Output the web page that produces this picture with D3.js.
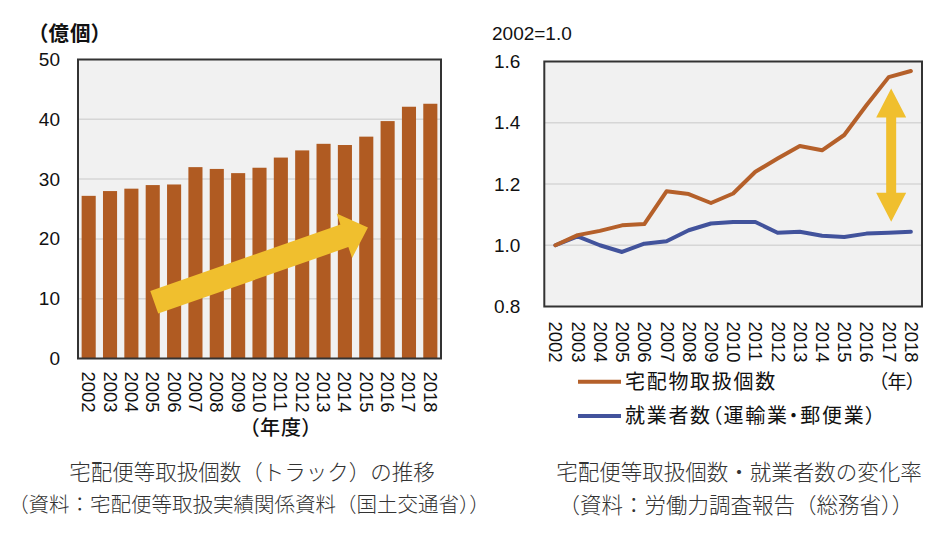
<!DOCTYPE html>
<html><head><meta charset="utf-8">
<script src="https://cdn.jsdelivr.net/npm/d3@7"></script>
<style>
body{margin:0;background:#fff}
svg{display:block}
text{font-family:"Liberation Sans",Arial,sans-serif;fill:#111}
.cjk{font-family:"Noto Sans CJK JP","Noto Sans CJK SC",sans-serif}
</style></head><body>
<svg id="c" width="950" height="536"></svg>
<script>
// ---- data ----
const years = ["2002","2003","2004","2005","2006","2007","2008","2009","2010","2011","2012","2013","2014","2015","2016","2017","2018"];
const parcels = [27.2,28.0,28.4,29.0,29.1,32.0,31.7,31.0,31.9,33.6,34.8,35.9,35.7,37.1,39.7,42.1,42.6];
const leftTicks = [0,10,20,30,40,50];
const parcelIndex = [1.000,1.033,1.047,1.065,1.069,1.176,1.167,1.138,1.169,1.240,1.283,1.324,1.310,1.360,1.457,1.549,1.569];
const workerIndex = [1.000,1.029,1.000,0.978,1.005,1.013,1.049,1.071,1.076,1.076,1.041,1.044,1.031,1.027,1.038,1.041,1.044];
const rightTicks = [0.8,1.0,1.2,1.4,1.6];
const seriesNames = ["宅配物取扱個数","就業者数（運輸業・郵便業）"];

const svg = d3.select("#c");
const BAR = "#b05b22", ORANGE = "#b5602a", BLUE = "#42539c", YELLOW = "#f0bf2e";
const PLOTBG = "#f1f1f1", GRID = "#d6d6d6", BORDER = "#333";

// ===== Left chart =====
const L = {x0:78, x1:441, y0:59.5, y1:358.5};
const xb = d3.scaleBand().domain(years).range([L.x0, L.x1]).paddingInner(0.34).paddingOuter(0.17);
const yl = d3.scaleLinear().domain([0,50]).range([L.y1, L.y0]);

const gl = svg.append("g");
gl.append("rect").attr("x",L.x0).attr("y",L.y0).attr("width",L.x1-L.x0).attr("height",L.y1-L.y0).attr("fill",PLOTBG);
gl.selectAll("line.grid").data(leftTicks.filter(t=>t>0&&t<50)).join("line")
  .attr("x1",L.x0).attr("x2",L.x1).attr("y1",d=>yl(d)).attr("y2",d=>yl(d))
  .attr("stroke",GRID).attr("stroke-width",1.5);
gl.selectAll("rect.bar").data(years).join("rect").attr("class","bar")
  .attr("x",d=>xb(d)).attr("width",xb.bandwidth())
  .attr("y",(d,i)=>yl(parcels[i])).attr("height",(d,i)=>yl(0)-yl(parcels[i]))
  .attr("fill",BAR);

// trend arrow (annotation in data space)
function blockArrow(g, p0, p1, shaftW, headW, headL, color){
  const dx=p1[0]-p0[0], dy=p1[1]-p0[1], len=Math.hypot(dx,dy);
  const ang=Math.atan2(dy,dx)*180/Math.PI;
  const b=len-headL;
  const pts=[[0,-shaftW/2],[b,-shaftW/2],[b,-headW/2],[len,0],[b,headW/2],[b,shaftW/2],[0,shaftW/2]];
  g.append("polygon").attr("points",pts.map(p=>p.join(",")).join(" "))
   .attr("fill",color).attr("transform",`translate(${p0[0]},${p0[1]}) rotate(${ang})`);
}
const xc = d=>xb(d)+xb.bandwidth()/2;
blockArrow(gl,[xc("2005")+1.5,yl(9.4)],[xc("2015")+1.7,yl(21.9)],24,47,25,YELLOW);

gl.append("rect").attr("x",L.x0).attr("y",L.y0).attr("width",L.x1-L.x0).attr("height",L.y1-L.y0)
  .attr("fill","none").attr("stroke",BORDER).attr("stroke-width",2);

const axL = gl.append("g").attr("transform",`translate(${L.x0},0)`)
  .call(d3.axisLeft(yl).tickValues(leftTicks).tickSize(0).tickPadding(18));
axL.select(".domain").remove();
axL.selectAll("text").attr("font-size",19).attr("font-family","Liberation Sans, Arial, sans-serif").attr("fill","#111");

const axLB = gl.append("g").attr("transform",`translate(0,${L.y1})`)
  .call(d3.axisBottom(xb).tickSize(0));
axLB.select(".domain").remove();
axLB.selectAll("text").attr("font-size",18.5).attr("font-family","Liberation Sans, Arial, sans-serif")
  .attr("fill","#111").attr("text-anchor","start")
  .attr("transform","translate(0,13) rotate(90)").attr("x",0).attr("y",0).attr("dy","0.35em");

gl.append("text").attr("class","cjk").attr("x",70).attr("y",41).attr("text-anchor","middle")
  .attr("font-size",20.5).attr("font-weight",700).attr("letter-spacing",1).style("font-feature-settings","'palt'").text("（億個）");
gl.append("text").attr("class","cjk").attr("x",281).attr("y",435).attr("text-anchor","middle")
  .attr("font-size",20).attr("font-weight",500).attr("letter-spacing",1).style("font-feature-settings","'palt'").text("（年度）");

// ===== Right chart =====
const R = {x0:544.3, x1:922, y0:61.5, y1:306.5};
const xp = d3.scalePoint().domain(years).range([R.x0, R.x1]).padding(0.5);
const yr = d3.scaleLinear().domain([0.8,1.6]).range([R.y1, R.y0]);
const gr = svg.append("g");
gr.append("rect").attr("x",R.x0).attr("y",R.y0).attr("width",R.x1-R.x0).attr("height",R.y1-R.y0).attr("fill",PLOTBG);
gr.selectAll("line.grid").data(rightTicks.filter(t=>t>0.8&&t<1.6)).join("line")
  .attr("x1",R.x0).attr("x2",R.x1).attr("y1",d=>yr(d)).attr("y2",d=>yr(d))
  .attr("stroke",GRID).attr("stroke-width",1.5);

const line = d3.line().x((d,i)=>xp(years[i])).y(d=>yr(d));
gr.append("path").datum(workerIndex).attr("d",line).attr("fill","none")
  .attr("stroke",BLUE).attr("stroke-width",4).attr("stroke-linejoin","round").attr("stroke-linecap","round");
gr.append("path").datum(parcelIndex).attr("d",line).attr("fill","none")
  .attr("stroke",ORANGE).attr("stroke-width",4).attr("stroke-linejoin","round").attr("stroke-linecap","round");

// double-headed vertical arrow
(function(){
  const x = xp("2017")+2.5, yTop = yr(1.512), yBot = yr(1.077);
  const sw=10, hw=30, hl=29;
  const pts=[[x,yTop],[x+hw/2,yTop+hl],[x+sw/2,yTop+hl],[x+sw/2,yBot-hl],[x+hw/2,yBot-hl],[x,yBot],
             [x-hw/2,yBot-hl],[x-sw/2,yBot-hl],[x-sw/2,yTop+hl],[x-hw/2,yTop+hl]];
  gr.append("polygon").attr("points",pts.map(p=>p.join(",")).join(" ")).attr("fill",YELLOW);
})();

gr.append("rect").attr("x",R.x0).attr("y",R.y0).attr("width",R.x1-R.x0).attr("height",R.y1-R.y0)
  .attr("fill","none").attr("stroke",BORDER).attr("stroke-width",2);

const axR = gr.append("g").attr("transform",`translate(${R.x0},0)`)
  .call(d3.axisLeft(yr).tickValues(rightTicks).tickFormat(d3.format(".1f")).tickSize(0).tickPadding(24));
axR.select(".domain").remove();
axR.selectAll("text").attr("font-size",19).attr("font-family","Liberation Sans, Arial, sans-serif").attr("fill","#111");

const axRB = gr.append("g").attr("transform",`translate(0,${R.y1})`)
  .call(d3.axisBottom(xp).tickSize(0));
axRB.select(".domain").remove();
axRB.selectAll("text").attr("font-size",18.5).attr("font-family","Liberation Sans, Arial, sans-serif")
  .attr("fill","#111").attr("text-anchor","start")
  .attr("transform","translate(0,15) rotate(90)").attr("x",0).attr("y",0).attr("dy","0.35em");

gr.append("text").attr("x",492).attr("y",40).attr("font-size",19).text("2002=1.0");

// legend
const legColors=[ORANGE,BLUE], legY=[381.7,416];
seriesNames.forEach((n,i)=>{
  gr.append("line").attr("x1",578).attr("x2",621).attr("y1",legY[i]).attr("y2",legY[i])
    .attr("stroke",legColors[i]).attr("stroke-width",4);
  gr.append("text").attr("class","cjk").attr("x",625).attr("y",legY[i]).attr("dy","0.36em")
    .attr("font-size",20).attr("letter-spacing",1.7).style("font-feature-settings","'palt'").text(n);
});
gr.append("text").attr("class","cjk").attr("x",897).attr("y",382).attr("dy","0.36em").attr("text-anchor","middle")
  .attr("font-size",19).style("font-feature-settings","'palt'").text("（年）");

// captions
const caps=[["宅配便等取扱個数（トラック）の推移",252,472,21.5],["（資料：宅配便等取扱実績関係資料（国土交通省））",249,505,20.5],
            ["宅配便等取扱個数・就業者数の変化率",739,472,21.5],["（資料：労働力調査報告（総務省））",736,505,21.5]];
svg.selectAll("text.cap").data(caps).join("text").attr("class","cap cjk")
  .attr("x",d=>d[1]).attr("y",d=>d[2]).attr("dy","0.36em").attr("text-anchor","middle")
  .attr("font-size",d=>d[3]).attr("font-weight",300).style("fill","#333").text(d=>d[0]);
</script>
</body></html>
